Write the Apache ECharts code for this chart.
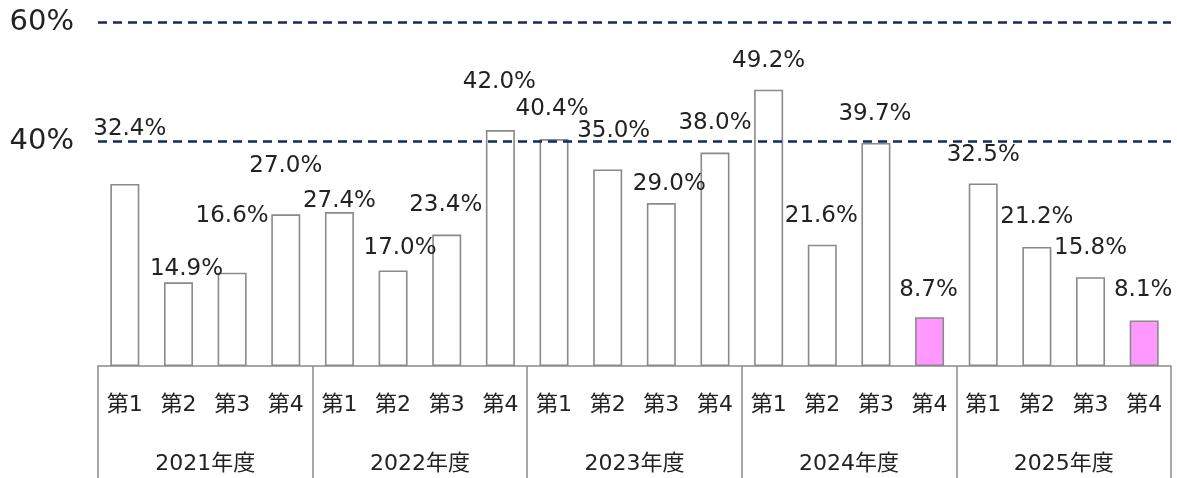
<!DOCTYPE html>
<html>
<head>
<meta charset="utf-8">
<script src="https://cdn.jsdelivr.net/npm/echarts@6/dist/echarts.min.js"></script>
<style>
  html, body { margin: 0; padding: 0; background: #fff; }
  #box { width: 1177px; height: 478px; }
</style>
</head>
<body>
<div id="box"></div>
<script>
// data
const years = ['2021年度', '2022年度', '2023年度', '2024年度', '2025年度'];
const quarterNames = ['第1', '第2', '第3', '第4'];
const rates = [32.4, 14.9, 16.6, 27.0, 27.4, 17.0, 23.4, 42.0, 40.4, 35.0,
               29.0, 38.0, 49.2, 21.6, 39.7, 8.7, 32.5, 21.2, 15.8, 8.1];
const highlightIdx = [15, 19];       // 桃色の棒
const refLabels = ['40%', '60%'];
const refValues = [40, 61.2];        // 60%の線は図の上端近くにある

// 四半期のカテゴリ (年度 x 四半期)
const quarterCats = [];
years.forEach(function () {
  quarterNames.forEach(function (q) { quarterCats.push(q); });
});

// ラベルのずれ [x, y]
const labelShift = [[5, -38], [8, 3], [0, -40], [0, -32], [0, 5], [7, -6], [-1, -13], [-1, -32],
  [-2, -14], [6, -22], [8, -3], [0, -13], [0, -12], [-1, -12], [-1, -12], [-1, -11],
  [0, -12], [0, -13], [0, -13], [-1, -14]];

const font = '"DejaVu Sans", "Noto Sans CJK JP", sans-serif';
const gray = '#8a8a8a';

var myChart = echarts.init(document.getElementById('box'));

var option = {
  animation: false,
  grid: { left: 98, right: 6, top: 20, bottom: 112, containLabel: false, outerBoundsMode: 'none' },
  xAxis: [
    {
      type: 'category',
      data: quarterCats,
      position: 'bottom',
      axisLine: { show: true, lineStyle: { color: gray, width: 1.5 } },
      axisTick: { show: false },
      axisLabel: { interval: 0, margin: 28, fontSize: 22, color: '#222', fontFamily: font }
    },
    {
      type: 'category',
      data: years,
      position: 'bottom',
      axisLine: { show: false },
      axisTick: { show: true, interval: 0, length: 112, lineStyle: { color: gray, width: 1.5 } },
      axisLabel: { interval: 0, margin: 87, fontSize: 22, color: '#222', fontFamily: font }
    }
  ],
  yAxis: { type: 'value', min: 0, max: 61.6, show: false },
  series: [
    {
      type: 'bar',
      xAxisIndex: 0,
      barWidth: 29,
      data: rates.map(function (v, i) {
        return {
          value: v,
          itemStyle: { color: highlightIdx.indexOf(i) >= 0 ? '#ff99ff' : '#ffffff' },
          label: { offset: labelShift[i] }
        };
      }),
      itemStyle: { borderColor: gray, borderWidth: 1.6 },
      label: {
        show: true,
        position: 'top',
        distance: 5,
        fontSize: 23,
        color: '#222',
        fontFamily: font,
        formatter: function (p) { return p.value.toFixed(1) + '%'; }
      },
      markLine: {
        silent: true,
        symbol: 'none',
        lineStyle: { color: '#102a66', width: 2.5, type: [9, 6] },
        label: {
          position: 'start',
          distance: 24,
          padding: [7, 0, 0, 0],
          fontSize: 29,
          color: '#222',
          fontFamily: font,
          formatter: function (p) { return p.name; }
        },
        data: refValues.map(function (v, i) {
          return { yAxis: v, name: refLabels[i] };
        })
      }
    }
  ]
};

myChart.setOption(option);
</script>
</body>
</html>
